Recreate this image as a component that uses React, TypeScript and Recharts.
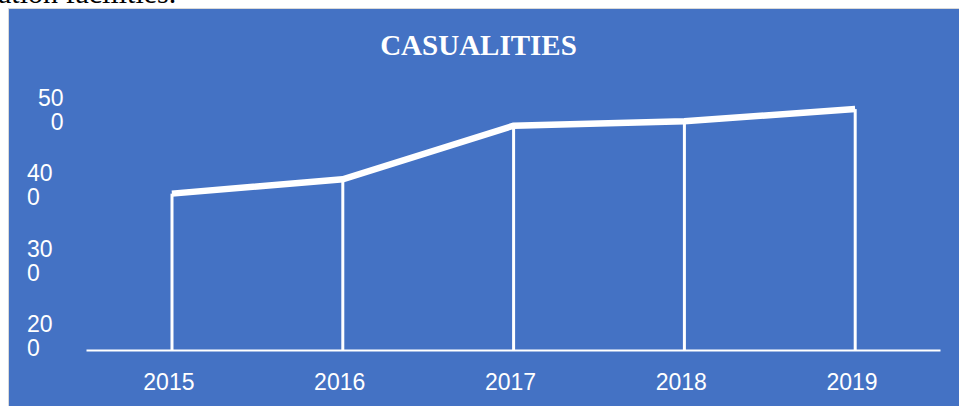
import React from "react";
import { ComposedChart, Bar, Line, XAxis, YAxis } from "recharts";

if (typeof document !== "undefined") {
  document.body.style.margin = "0";
  document.body.style.overflow = "hidden";
}

const years = ["2015", "2016", "2017", "2018", "2019"];
const casualties = [388, 407, 478, 484, 500];
const yTicks = [200, 300, 400, 500];
const yDomain = [180, 520];

const data = years.map((y, i) => ({ year: y, value: casualties[i] }));

const FONT = "'Liberation Sans', Arial, sans-serif";

const YTick = (props: any) => {
  const { x, y, payload } = props;
  const s = String(payload.value);
  const first = s.slice(0, 2);
  const second = s.slice(2);
  const right = payload.value === 500;
  const tx = right ? x - 23 : x - 59.5;
  return (
    <text fill="#ffffff" fontSize={23} fontFamily={FONT} textAnchor={right ? "end" : "start"}>
      <tspan x={tx} y={y - 3.5}>{first}</tspan>
      <tspan x={tx} y={y + 20.5}>{second}</tspan>
    </text>
  );
};

const XTick = (props: any) => {
  const { x, y, payload } = props;
  return (
    <text x={x - 3} y={y + 39.4} fill="#ffffff" fontSize={23} fontFamily={FONT} textAnchor="middle">
      {payload.value}
    </text>
  );
};

export default function App() {
  return (
    <div style={{ position: "relative", width: 959, height: 406, overflow: "hidden" }}>
      <div
        style={{
          position: "absolute",
          left: -2,
          top: -22,
          fontFamily: "'Liberation Serif', 'Times New Roman', serif",
          fontSize: 30,
          lineHeight: "30px",
          color: "#000",
          whiteSpace: "nowrap",
        }}
      >
        ation facilities.
      </div>
      <div
        style={{
          position: "absolute",
          left: 8,
          top: 8,
          width: 950,
          height: 397,
          background: "#4472C4",
          borderLeft: "1px solid #d9d9d9",
          borderTop: "1px solid #d9d9d9",
        }}
      >
        <ComposedChart
          width={950}
          height={397}
          data={data}
          margin={{ top: 85, right: 18.5, bottom: 0, left: 0 }}
        >
          <XAxis
            dataKey="year"
            axisLine={{ stroke: "#ffffff", strokeWidth: 2 }}
            tickLine={false}
            tickSize={0}
            tickMargin={0}
            height={55.4}
            tick={<XTick />}
            interval={0}
          />
          <YAxis
            type="number"
            domain={yDomain}
            ticks={yTicks}
            axisLine={false}
            tickLine={false}
            tickSize={0}
            tickMargin={0}
            width={77.5}
            tick={<YTick />}
            interval={0}
          />
          <Bar dataKey="value" barSize={3} fill="#ffffff" isAnimationActive={false} />
          <Line
            type="linear"
            dataKey="value"
            stroke="#ffffff"
            strokeWidth={6.5}
            dot={false}
            activeDot={false}
            isAnimationActive={false}
          />
        </ComposedChart>
        <div
          style={{
            position: "absolute",
            left: -9,
            top: 30.7 - 9,
            width: 957,
            textAlign: "center",
            fontFamily: "'Liberation Serif', 'Times New Roman', serif",
            fontWeight: "bold",
            fontSize: 29,
            lineHeight: "29px",
            color: "#ffffff",
          }}
        >
          CASUALITIES
        </div>
      </div>
    </div>
  );
}
